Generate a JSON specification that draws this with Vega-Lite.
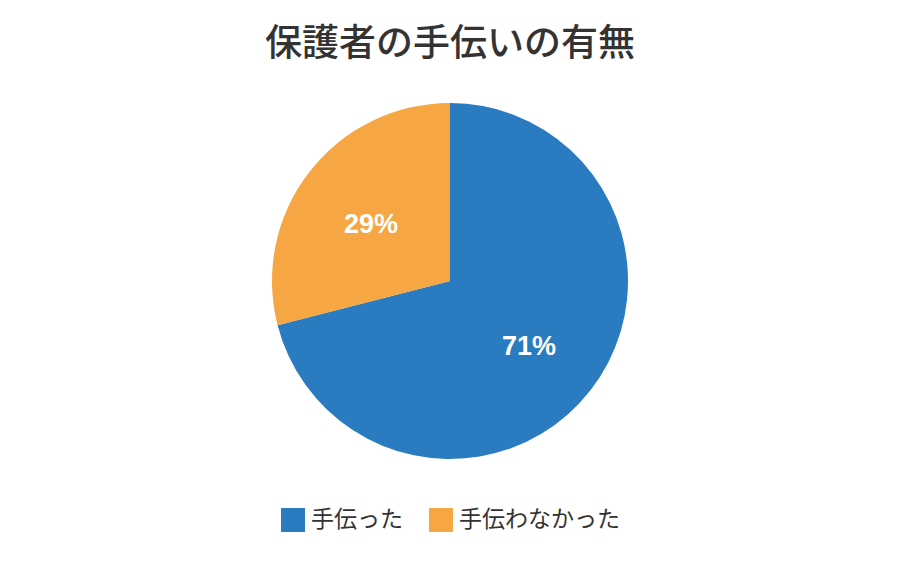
{
  "$schema": "https://vega.github.io/schema/vega-lite/v6.json",
  "width": 900,
  "height": 562,
  "autosize": "none",
  "padding": 0,
  "background": "#ffffff",
  "title": {
    "text": "保護者の手伝いの有無",
    "anchor": "middle",
    "orient": "top",
    "offset": -64,
    "font": "Noto Sans CJK JP",
    "fontSize": 37,
    "fontWeight": 500,
    "color": "#333333"
  },
  "data": {
    "values": [
      {"category": "手伝った", "value": 71, "order": 1, "label": "71%"},
      {"category": "手伝わなかった", "value": 29, "order": 2, "label": "29%"}
    ]
  },
  "encoding": {
    "theta": {"field": "value", "type": "quantitative", "stack": true},
    "order": {"field": "order", "type": "quantitative"}
  },
  "layer": [
    {
      "mark": {"type": "arc", "outerRadius": 178},
      "encoding": {
        "color": {
          "field": "category",
          "type": "nominal",
          "sort": ["手伝った", "手伝わなかった"],
          "scale": {"domain": ["手伝った", "手伝わなかった"], "range": ["#2a7bc0", "#f6a642"]},
          "legend": {
            "title": null,
            "orient": "none",
            "direction": "horizontal",
            "legendX": 281,
            "legendY": 508,
            "symbolType": "square",
            "symbolSize": 576,
            "symbolStrokeWidth": 0,
            "labelFont": "Noto Sans CJK JP",
            "labelFontSize": 23,
            "labelColor": "#333333",
            "labelOffset": 6,
            "labelLimit": 300,
            "columnPadding": 26
          }
        }
      }
    },
    {
      "mark": {
        "type": "text",
        "radius": 100,
        "dy": 5,
        "font": "Liberation Sans",
        "fontSize": 27,
        "fontWeight": "bold",
        "color": "#ffffff"
      },
      "encoding": {
        "text": {"field": "label", "type": "nominal"}
      }
    }
  ]
}
